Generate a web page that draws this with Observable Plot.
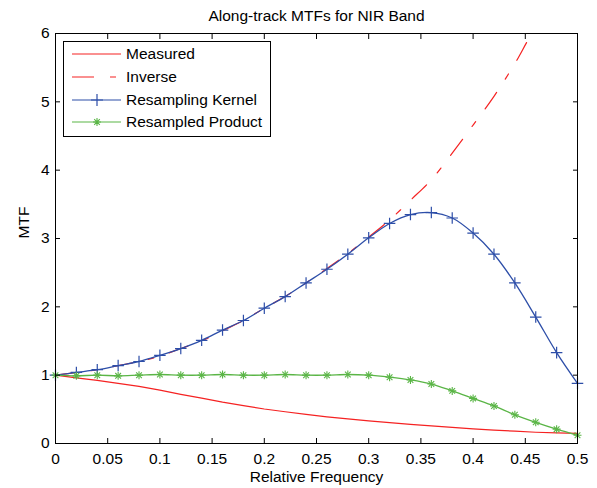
<!DOCTYPE html>
<html><head><meta charset="utf-8">
<script src="https://cdn.jsdelivr.net/npm/d3@7"></script>
<script src="https://cdn.jsdelivr.net/npm/@observablehq/plot@0.6"></script>
<style>
body{margin:0;background:#fff;}
#wrap{position:relative;width:597px;height:488px;font-family:"Liberation Sans",Arial,sans-serif;}
#wrap svg{position:absolute;left:0;top:0;}
</style></head><body><div id="wrap"></div>
<script>
// ---- data ----
const freq     = [0,0.02,0.04,0.06,0.08,0.10,0.12,0.14,0.16,0.18,0.20,0.22,0.24,0.26,0.28,0.30,0.32,0.34,0.36,0.38,0.40,0.42,0.44,0.46,0.48,0.50];
const measured = [1.0,0.96,0.925,0.88,0.835,0.78,0.72,0.665,0.605,0.555,0.505,0.465,0.425,0.39,0.36,0.332,0.306,0.281,0.259,0.235,0.215,0.197,0.18,0.165,0.156,0.147];
const inverse  = [1.0,1.04,1.08,1.14,1.2,1.28,1.39,1.5,1.65,1.8,1.98,2.15,2.35,2.56,2.78,3.02,3.27,3.56,3.86,4.25,4.66,5.08,5.56,6.08,6.4,6.8];
const kernel   = [1.0,1.04,1.08,1.14,1.2,1.29,1.39,1.51,1.66,1.8,1.98,2.15,2.35,2.55,2.77,3.01,3.22,3.35,3.38,3.3,3.08,2.77,2.35,1.85,1.33,0.88];
const product  = [1.0,0.99,1.0,0.99,1.0,1.01,1.0,1.0,1.01,1.0,1.0,1.01,1.0,1.0,1.01,1.0,0.97,0.93,0.87,0.77,0.66,0.55,0.42,0.31,0.21,0.12];
const xTicks      = [0,0.05,0.1,0.15,0.2,0.25,0.3,0.35,0.4,0.45,0.5];
const xTickLabels = ["0","0.05","0.1","0.15","0.2","0.25","0.3","0.35","0.4","0.45","0.5"];
const yTicks      = [0,1,2,3,4,5,6];
const yTickLabels = ["0","1","2","3","4","5","6"];
const titleText = "Along-track MTFs for NIR Band";
const xLabel = "Relative Frequency";
const yLabel = "MTF";
const seriesNames = ["Measured","Inverse","Resampling Kernel","Resampled Product"];

const RED = "#f52222", BLUE = "#2d4ea8", GREEN = "#5ab546";
const FONT = "'Liberation Sans', Arial, sans-serif";
const FS = 15.5;

const rows = freq.map((f,i)=>({f, measured:measured[i], inverse:inverse[i], kernel:kernel[i], product:product[i]}));
const xLab = new Map(xTicks.map((t,i)=>[t,xTickLabels[i]]));
const yLab = new Map(yTicks.map((t,i)=>[t,yTickLabels[i]]));
const blank = () => "";

const chart = Plot.plot({
  width:597, height:488,
  marginLeft:55, marginRight:20, marginTop:33, marginBottom:45,
  style:{fontFamily:FONT, fontSize:FS+"px", color:"#000", background:"#fff", overflow:"visible"},
  x:{domain:[0,0.5]},
  y:{domain:[0,6]},
  marks:[
    Plot.line(rows,{x:"f",y:"measured",stroke:RED,strokeWidth:1.2}),
    Plot.line(rows,{x:"f",y:"inverse",stroke:RED,strokeWidth:1.2,strokeDasharray:"20,16,6,16",curve:"catmull-rom",clip:true}),
    Plot.line(rows,{x:"f",y:"kernel",stroke:BLUE,strokeWidth:1.3,curve:"catmull-rom"}),
    Plot.dot(rows,{x:"f",y:"kernel",symbol:"plus",r:3.8,stroke:BLUE,strokeWidth:1.2}),
    Plot.line(rows,{x:"f",y:"product",stroke:GREEN,strokeWidth:1.3,curve:"catmull-rom"}),
    Plot.dot(rows,{x:"f",y:"product",symbol:"plus",r:2.7,stroke:GREEN,strokeWidth:1.1}),
    Plot.dot(rows,{x:"f",y:"product",symbol:"times",r:2.7,stroke:GREEN,strokeWidth:1.1}),
    Plot.frame({stroke:"#000",strokeWidth:1}),
    // inward ticks
    Plot.axisX({anchor:"bottom",ticks:xTicks,tickSize:5,dy:-5,tickFormat:blank,label:null,stroke:"#000"}),
    Plot.axisX({anchor:"top",ticks:xTicks,tickSize:5,dy:5,tickFormat:blank,label:null,stroke:"#000"}),
    Plot.axisY({anchor:"left",ticks:yTicks,tickSize:5,dx:5,tickFormat:blank,label:null,stroke:"#000"}),
    Plot.axisY({anchor:"right",ticks:yTicks,tickSize:5,dx:-5,tickFormat:blank,label:null,stroke:"#000"}),
    // tick labels
    Plot.axisX({anchor:"bottom",ticks:xTicks,tickSize:0,tickPadding:9,tickFormat:d=>xLab.get(d),label:null,fontSize:FS}),
    Plot.axisY({anchor:"left",ticks:yTicks,tickSize:0,tickPadding:6,tickFormat:d=>yLab.get(d),label:null,fontSize:FS}),
    // title and axis labels
    Plot.text([titleText],{frameAnchor:"top",dy:-17,lineAnchor:"middle",fontSize:FS,fill:"#000"}),
    Plot.text([xLabel],{frameAnchor:"bottom",dy:34,lineAnchor:"middle",fontSize:FS,fill:"#000"}),
    Plot.text([yLabel],{frameAnchor:"left",dx:-31,rotate:-90,lineAnchor:"middle",fontSize:FS,fill:"#000"})
  ]
});
document.getElementById("wrap").appendChild(chart);

// ---- legend overlay ----
const lg = d3.select("#wrap").append("svg").attr("width",597).attr("height",488)
  .style("font-family",FONT).style("font-size",FS+"px");
lg.append("rect").attr("x",63.5).attr("y",41.5).attr("width",207).attr("height",95)
  .attr("fill","#fff").attr("stroke","#000").attr("stroke-width",1);
const entryY = [54,77,100,122];
const styles = [
  {stroke:RED, dash:null, marker:null},
  {stroke:RED, dash:"22,16,6,16", marker:null},
  {stroke:BLUE, dash:null, marker:"plus"},
  {stroke:GREEN, dash:null, marker:"star"}
];
seriesNames.forEach((name,i)=>{
  const y = entryY[i], s = styles[i];
  lg.append("line").attr("x1",72).attr("x2",121).attr("y1",y).attr("y2",y)
    .attr("stroke",s.stroke).attr("stroke-width",1.2).attr("stroke-dasharray",s.dash);
  if (s.marker==="plus") {
    lg.append("path").attr("d",`M91,${y}h12M97,${y-6}v12`).attr("stroke",s.stroke).attr("stroke-width",1.2);
  } else if (s.marker==="star") {
    lg.append("path").attr("d",`M93,${y}h8M97,${y-4}v8M94.2,${y-2.8}l5.6,5.6M99.8,${y-2.8}l-5.6,5.6`).attr("stroke",s.stroke).attr("stroke-width",1.1);
  }
  lg.append("text").attr("x",126).attr("y",y).attr("dy","0.35em").attr("fill","#000").text(name);
});
</script></body></html>
